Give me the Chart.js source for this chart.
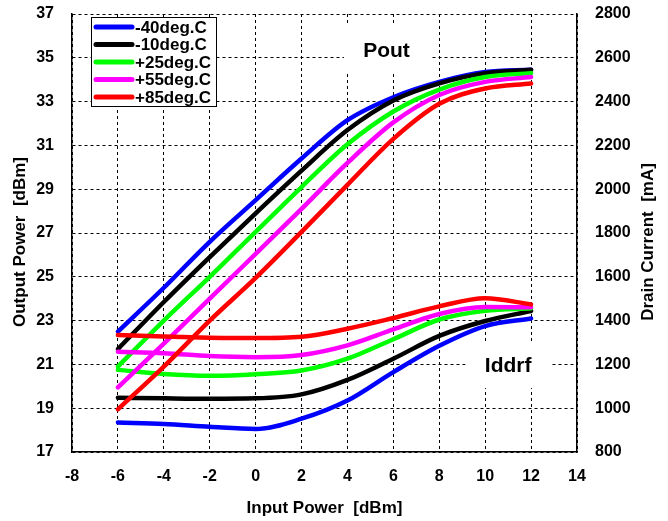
<!DOCTYPE html>
<html>
<head>
<meta charset="utf-8">
<script src="https://cdn.jsdelivr.net/npm/chart.js@4/dist/chart.umd.min.js"></script>
<style>
    body { margin: 0; background: #fff; }
    #wrap { width: 668px; height: 521px; }
</style>
</head>
<body>
<div id="wrap"><canvas id="tempChart"></canvas></div>
<script>
const inputPower = [-6, -4, -2, 0, 2, 4, 6, 8, 10, 12];
const tempLabels = ["-40deg.C", "-10deg.C", "+25deg.C", "+55deg.C", "+85deg.C"];
const tempColors = ["#0000ff", "#000000", "#00ff00", "#ff00ff", "#ff0000"];

// output power [dBm]
const pout40 = [22.5, 24.5, 26.6, 28.5, 30.4, 32.15, 33.2, 33.9, 34.35, 34.45];
const pout10 = [21.7, 23.85, 25.9, 27.9, 29.85, 31.7, 33.05, 33.83, 34.3, 34.45];
const pout25 = [20.9, 23.0, 25.0, 27.05, 29.1, 31.05, 32.55, 33.55, 34.12, 34.3];
const pout55 = [19.95, 21.95, 24.0, 26.05, 28.1, 30.2, 32.05, 33.3, 33.9, 34.12];
const pout85 = [18.95, 20.9, 23.0, 24.95, 27.05, 29.2, 31.3, 32.9, 33.6, 33.83];

// drain current [mA]
const idd40 = [935, 928, 915, 905, 952, 1035, 1165, 1285, 1375, 1410];
const idd10 = [1048, 1045, 1043, 1045, 1063, 1129, 1226, 1330, 1398, 1444];
const idd25 = [1175, 1156, 1148, 1155, 1172, 1226, 1315, 1405, 1445, 1456];
const idd55 = [1258, 1251, 1238, 1233, 1243, 1287, 1360, 1430, 1462, 1461];
const idd85 = [1334, 1327, 1322, 1320, 1326, 1363, 1412, 1465, 1502, 1474];

const xTicks = [-8, -6, -4, -2, 0, 2, 4, 6, 8, 10, 12, 14];
const poutTicks = [17, 19, 21, 23, 25, 27, 29, 31, 33, 35, 37];
const iddTicks = [800, 1000, 1200, 1400, 1600, 1800, 2000, 2200, 2400, 2600, 2800];

const poutSets = [pout40, pout10, pout25, pout55, pout85];
const iddSets = [idd40, idd10, idd25, idd55, idd85];

function toPoints(values) {
    return values.map(function (v, i) { return { x: inputPower[i], y: v }; });
}

var datasets = [];
for (let i = 0; i < tempLabels.length; i++) {
    datasets.push({
        label: tempLabels[i] + " Pout",
        data: toPoints(poutSets[i]),
        yAxisID: "yPout",
        borderColor: tempColors[i],
        borderWidth: 4.5,
        borderCapStyle: "round",
        pointRadius: 0,
        cubicInterpolationMode: "monotone",
        order: 5 - i
    });
    datasets.push({
        label: tempLabels[i] + " Iddrf",
        data: toPoints(iddSets[i]),
        yAxisID: "yIdd",
        borderColor: tempColors[i],
        borderWidth: 4.5,
        borderCapStyle: "round",
        pointRadius: 0,
        cubicInterpolationMode: "monotone",
        order: 5 - i
    });
}

const FONT = "'Liberation Sans', Arial, sans-serif";

function verticalText(ctx, text, x, y) {
    ctx.save();
    ctx.translate(x, y);
    ctx.rotate(-Math.PI / 2);
    ctx.textAlign = "center";
    ctx.textBaseline = "middle";
    ctx.fillText(text, 0, 0);
    ctx.restore();
}

// white boxes with "Pout" / "Iddrf", legend box, axis titles
const notesPlugin = {
    id: "notes",
    beforeDatasetsDraw: function (chart) {
        const ctx = chart.ctx;
        const x = chart.scales.x;
        const y = chart.scales.yPout;
        ctx.save();
        ctx.fillStyle = "#fff";
        ctx.fillRect(x.getPixelForValue(3.85), y.getPixelForValue(36.5),
            x.getPixelForValue(7.6) - x.getPixelForValue(3.85), y.getPixelForValue(34.35) - y.getPixelForValue(36.5));
        ctx.fillRect(x.getPixelForValue(9.15), y.getPixelForValue(21.98),
            x.getPixelForValue(12.83) - x.getPixelForValue(9.15), y.getPixelForValue(19.92) - y.getPixelForValue(21.98));
        ctx.fillStyle = "#000";
        ctx.font = "bold 21px " + FONT;
        ctx.textAlign = "center";
        ctx.textBaseline = "middle";
        ctx.fillText("Pout", x.getPixelForValue(5.7), y.getPixelForValue(35.3));
        ctx.fillText("Iddrf", x.getPixelForValue(11.0), y.getPixelForValue(20.93));
        ctx.restore();
    },
    afterDatasetsDraw: function (chart) {
        const ctx = chart.ctx;
        const left = 91, top = 17, w = 125, h = 89;
        ctx.save();
        ctx.fillStyle = "#fff";
        ctx.fillRect(left, top, w, h);
        ctx.strokeStyle = "#000";
        ctx.lineWidth = 1;
        ctx.strokeRect(left + 0.5, top + 0.5, w, h);
        ctx.font = "bold 17px " + FONT;
        ctx.textBaseline = "middle";
        ctx.textAlign = "left";
        ctx.lineCap = "round";
        for (let i = 0; i < tempLabels.length; i++) {
            const yy = top + 10 + i * 17.5;
            ctx.strokeStyle = tempColors[i];
            ctx.lineWidth = 5;
            ctx.beginPath();
            ctx.moveTo(96, yy);
            ctx.lineTo(132, yy);
            ctx.stroke();
            ctx.fillStyle = "#000";
            ctx.fillText(tempLabels[i], 135, yy + 1);
        }
        // both side titles read bottom to top
        const mid = (chart.chartArea.top + chart.chartArea.bottom) / 2 + 9;
        ctx.font = "bold 17px " + FONT;
        verticalText(ctx, "Output Power  [dBm]", 20, mid);
        verticalText(ctx, "Drain Current  [mA]", 648, mid);
        ctx.restore();
    }
};

const gridOpts = { color: "#000", lineWidth: 1, drawTicks: false };
const borderOpts = { color: "#000", width: 1.5, dash: [3, 3] };
const tickFont = { family: FONT, size: 16, weight: "bold" };
const titleFont = { family: FONT, size: 17, weight: "bold" };

function fixedTicks(list) {
    return function (scale) {
        scale.ticks = list.map(function (v) { return { value: v }; });
    };
}

function plainLabel(value) {
    return String(value);
}

var ctx = document.getElementById("tempChart").getContext("2d");
var tempChart = new Chart(ctx, {
    type: "line",
    data: { datasets: datasets },
    options: {
        responsive: true,
        maintainAspectRatio: false,
        animation: false,
        devicePixelRatio: 1,
        layout: { padding: { top: 14, left: 0, right: 0, bottom: 0 } },
        plugins: { legend: { display: false }, tooltip: { enabled: false } },
        scales: {
            x: {
                type: "linear",
                min: -8, max: 14,
                afterBuildTicks: fixedTicks(xTicks),
                afterFit: function (s) { s.height = 69; s.paddingLeft = 0; s.paddingRight = 0; },
                grid: gridOpts,
                border: borderOpts,
                ticks: { color: "#000", font: tickFont, padding: 15, maxRotation: 0, callback: plainLabel },
                title: { display: true, text: "Input Power  [dBm]", color: "#000", font: titleFont, padding: { top: 0, bottom: 2 } }
            },
            yPout: {
                type: "linear",
                position: "left",
                min: 17, max: 37,
                afterBuildTicks: fixedTicks(poutTicks),
                afterFit: function (s) { s.width = 72; s.paddingTop = 0; s.paddingBottom = 0; },
                grid: gridOpts,
                border: borderOpts,
                ticks: { color: "#000", font: tickFont, padding: 18, callback: plainLabel }
            },
            yIdd: {
                type: "linear",
                position: "right",
                min: 800, max: 2800,
                afterBuildTicks: fixedTicks(iddTicks),
                afterFit: function (s) { s.width = 91; s.paddingTop = 0; s.paddingBottom = 0; },
                grid: { display: false, drawTicks: false },
                border: { color: "#000", width: 1.5 },
                ticks: { color: "#000", font: tickFont, padding: 18, callback: plainLabel }
            }
        }
    },
    plugins: [notesPlugin]
});
</script>
</body>
</html>
